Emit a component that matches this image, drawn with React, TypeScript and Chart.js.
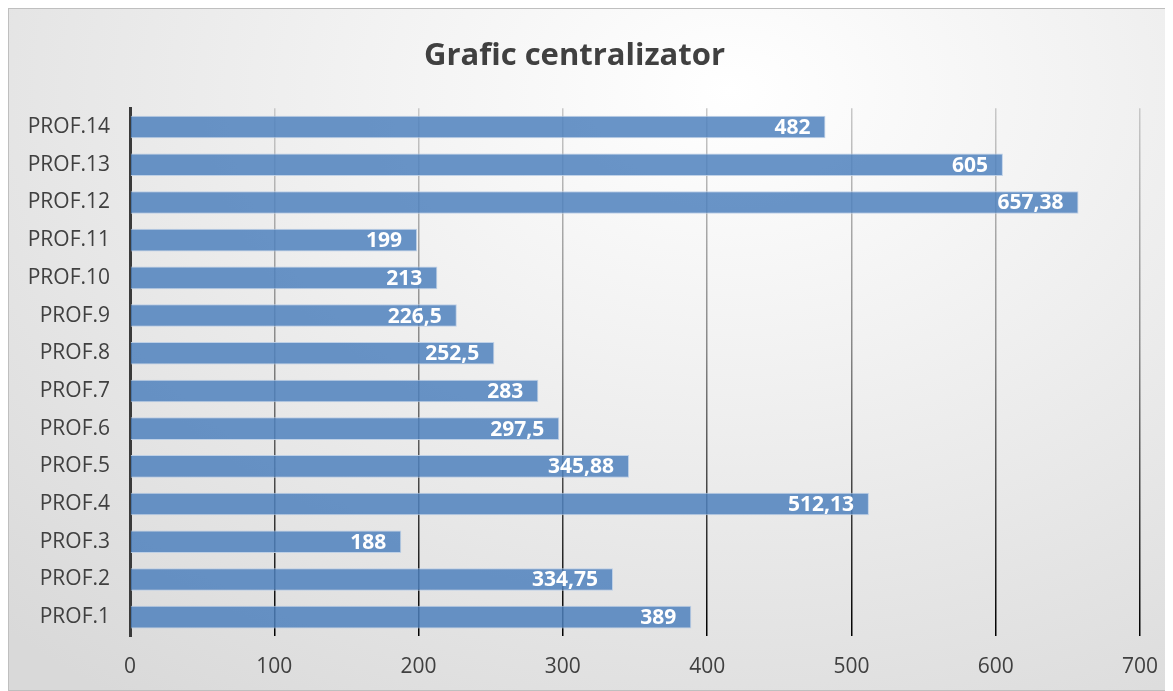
import React, { useEffect, useRef } from "react";
import { Chart, registerables } from "chart.js";

Chart.register(...registerables);

const categories = [
  "PROF.1", "PROF.2", "PROF.3", "PROF.4", "PROF.5", "PROF.6", "PROF.7",
  "PROF.8", "PROF.9", "PROF.10", "PROF.11", "PROF.12", "PROF.13", "PROF.14",
];
const values = [389, 334.75, 188, 512.13, 345.88, 297.5, 283, 252.5, 226.5, 213, 199, 657.38, 605, 482];
const xTicks = [0, 100, 200, 300, 400, 500, 600, 700];
const titleText = "Grafic centralizator";

const FONT = "'Open Sans', 'DejaVu Sans', sans-serif";
const fmt = (v: number) => String(v).replace(".", ",");

const dataLabelPlugin = {
  id: "dataLabels",
  afterDatasetsDraw(chart: any) {
    const ctx = chart.ctx;
    const meta = chart.getDatasetMeta(0);
    ctx.save();
    ctx.fillStyle = "#ffffff";
    ctx.font = `bold 21px ${FONT}`;
    ctx.textAlign = "right";
    ctx.textBaseline = "middle";
    meta.data.forEach((el: any, i: number) => {
      const v = chart.data.datasets[0].data[i];
      ctx.fillText(fmt(v), el.x - 15, el.y + 1);
    });
    ctx.restore();
  },
};

export default function App() {
  const ref = useRef<HTMLCanvasElement | null>(null);
  useEffect(() => {
    if (!ref.current) return;
    const chart = new Chart(ref.current, {
      type: "bar",
      data: {
        labels: categories,
        datasets: [
          {
            data: values,
            backgroundColor: "rgba(79,129,189,0.85)",
            borderColor: "rgba(185,205,229,0.9)",
            borderWidth: 1,
            barPercentage: 0.6,
            categoryPercentage: 1,
          },
        ],
      },
      options: {
        indexAxis: "y",
        animation: false,
        responsive: false,
        maintainAspectRatio: false,
        layout: { padding: { left: 0, right: 32, top: 0, bottom: 0 } },
        plugins: {
          legend: { display: false },
          tooltip: { enabled: false },
          title: {
            display: true,
            text: titleText,
            color: "#404040",
            font: { family: FONT, size: 31, weight: "bold" },
            padding: { top: 29, bottom: 33 },
          },
        },
        scales: {
          x: {
            min: 0,
            max: 700,
            afterBuildTicks: (scale: any) => {
              scale.ticks = xTicks.map((v) => ({ value: v }));
            },
            afterFit: (scale: any) => {
              scale.height = 54;
              scale.paddingLeft = 0;
              scale.paddingRight = 0;
            },
            border: { display: false },
            grid: {
              drawTicks: false,
              lineWidth: 1.5,
              color: (c: any) => {
                const area = c.chart.chartArea;
                if (!area) return "#888";
                const g = c.chart.ctx.createLinearGradient(0, area.top, 0, area.bottom);
                g.addColorStop(0, "#c8c8c8");
                g.addColorStop(0.45, "#888888");
                g.addColorStop(1, "#000000");
                return g;
              },
            },
            ticks: {
              color: "#404040",
              font: { family: FONT, size: 21 },
              padding: 18,
            },
          },
          y: {
            reverse: true,
            afterFit: (scale: any) => {
              scale.width = 121;
            },
            grid: { display: false, drawTicks: false },
            border: { display: true, color: "#3a3a3a", width: 3 },
            ticks: {
              color: "#404040",
              font: { family: FONT, size: 21 },
              padding: 20,
            },
          },
        },
      },
      plugins: [dataLabelPlugin],
    } as any);
    return () => chart.destroy();
  }, []);

  return (
    <div
      style={{
        width: 1165,
        height: 683,
        boxSizing: "border-box",
        border: "1px solid #bfbfbf",
        background:
          "radial-gradient(ellipse 90% 110% at 62% 12%, #ffffff 0%, #f2f2f2 35%, #d9d9d9 100%)",
        position: "relative",
        overflow: "hidden",
      }}
    >
      <canvas ref={ref} width={1163} height={681} style={{ display: "block" }} />
    </div>
  );
}
